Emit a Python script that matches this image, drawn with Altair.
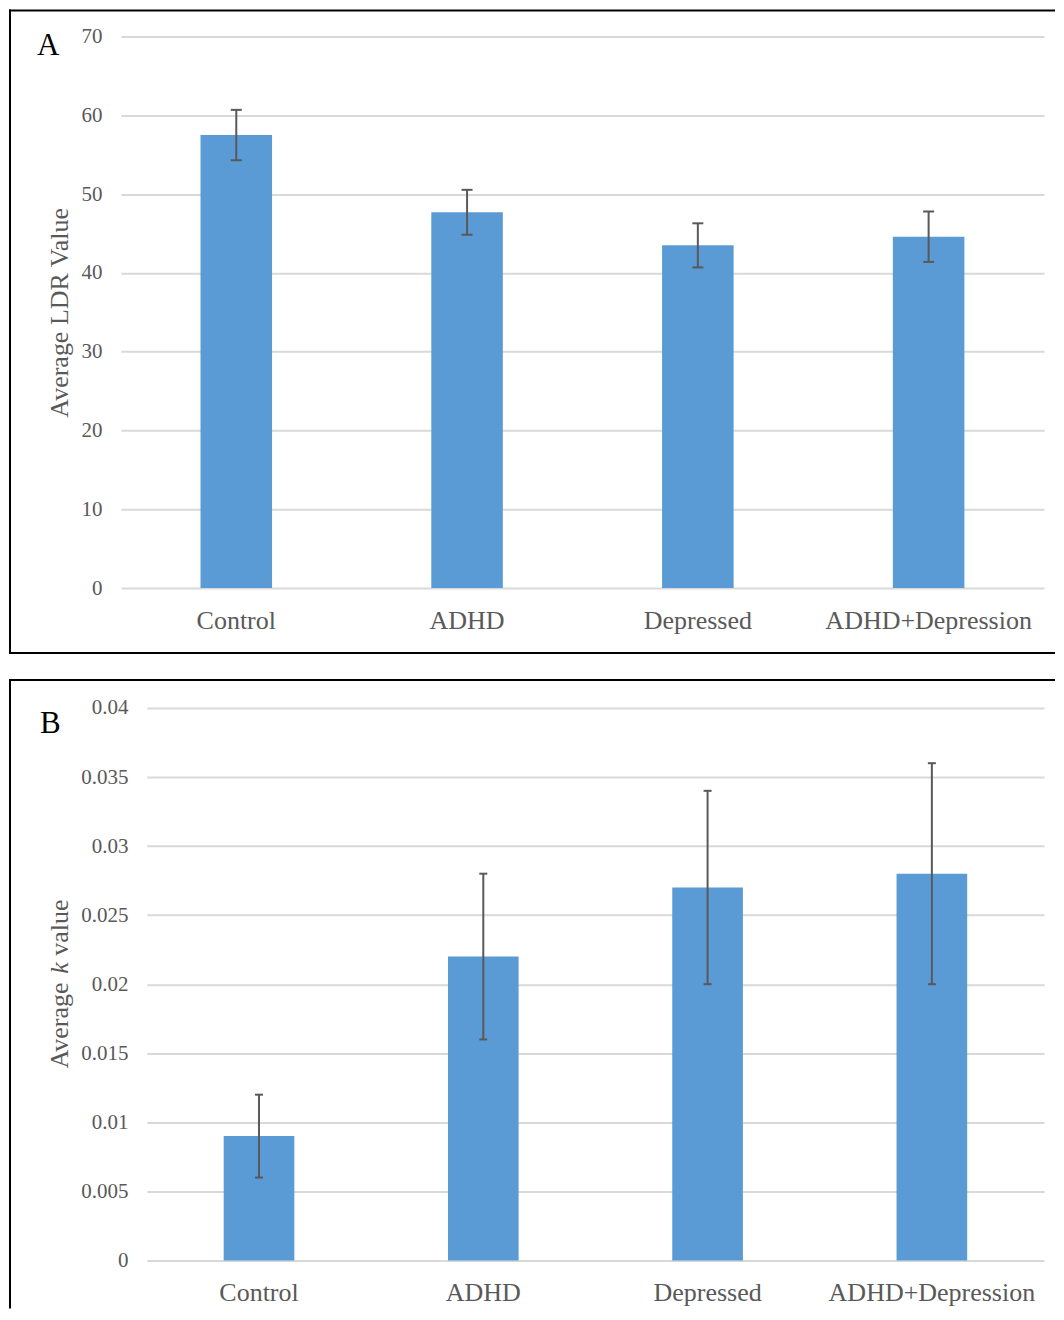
import altair as alt
import pandas as pd

# ---- data ----
categories = ["Control", "ADHD", "Depressed", "ADHD+Depression"]
ldr_means = [57.5, 47.7, 43.5, 44.6]
ldr_errors = [3.2, 2.85, 2.8, 3.2]
ldr_ticks = [0, 10, 20, 30, 40, 50, 60, 70]
k_means = [0.009, 0.022, 0.027, 0.028]
k_errors = [0.003, 0.006, 0.007, 0.008]
k_ticks = [0, 0.005, 0.01, 0.015, 0.02, 0.025, 0.03, 0.035, 0.04]

BAR = "#5B9BD5"
GRAY = "#595959"
GRID = "#D9D9D9"
FONT = "Liberation Serif"

W = 924  # common view width of both panels

one = pd.DataFrame({"d": [0]})


def make_df(means, errs):
    return pd.DataFrame({
        "group": categories,
        "mean": means,
        "lo": [m - e for m, e in zip(means, errs)],
        "hi": [m + e for m, e in zip(means, errs)],
    })


def panel(df, ticks, domain, h, inset, pad_inner, cap, title, letter, letter_xy,
          left_x, right_x, top_y, bottom_y, draw_bottom):
    xs = alt.Scale(paddingInner=pad_inner, paddingOuter=pad_inner / 2, range=[inset, W])
    xa = alt.Axis(labelFontSize=26, labelColor=GRAY, labelPadding=19, labelAngle=0,
                  ticks=False, domain=False, grid=False, labelLimit=400,
                  labelFont=FONT)
    ys = alt.Scale(domain=domain, nice=False, zero=True)
    ya_kw = dict(values=ticks, format="~r", grid=True, gridColor=GRID, gridWidth=2,
                 ticks=False, domain=False, labelFontSize=21, labelColor=GRAY,
                 labelPadding=19, labelFont=FONT, offset=-inset)
    if title:
        ya = alt.Axis(title=title, titleFontSize=26, titleColor=GRAY,
                      titleFontWeight="normal", titlePadding=8, titleFont=FONT, **ya_kw)
    else:
        ya = alt.Axis(title=None, **ya_kw)

    X = alt.X("group:N", sort=categories, scale=xs, axis=xa, title=None)

    base = alt.Chart(df)
    bars = base.mark_bar(color=BAR).encode(
        x=X, y=alt.Y("mean:Q", scale=ys, axis=ya))
    err = base.mark_rule(color=GRAY, strokeWidth=2).encode(
        x=X, y=alt.Y("lo:Q", scale=ys, axis=ya), y2="hi:Q")
    cap_lo = base.mark_tick(color=GRAY, size=cap, thickness=2, opacity=1).encode(
        x=X, y=alt.Y("lo:Q", scale=ys, axis=ya))
    cap_hi = base.mark_tick(color=GRAY, size=cap, thickness=2, opacity=1).encode(
        x=X, y=alt.Y("hi:Q", scale=ys, axis=ya))

    lab = alt.Chart(one).mark_text(text=letter, font=FONT, fontSize=31, color="black",
                                   align="left", baseline="alphabetic").encode(
        x=alt.value(letter_xy[0]), y=alt.value(letter_xy[1]))

    bstyle = dict(color="black", strokeWidth=2, strokeCap="square")
    left = alt.Chart(one).mark_rule(**bstyle).encode(
        x=alt.value(left_x), y=alt.value(top_y), y2=alt.value(bottom_y))
    top = alt.Chart(one).mark_rule(**bstyle).encode(
        x=alt.value(left_x), x2=alt.value(right_x), y=alt.value(top_y))
    layers = [bars, err, cap_lo, cap_hi, lab, left, top]
    if draw_bottom:
        bottom = alt.Chart(one).mark_rule(**bstyle).encode(
            x=alt.value(left_x), x2=alt.value(right_x), y=alt.value(bottom_y))
        layers.append(bottom)
    return alt.layer(*layers).properties(width=W, height=h)


chart_a = panel(make_df(ldr_means, ldr_errors), ldr_ticks, [0, 70], 552, 0, 0.69, 11,
                "Average LDR Value", "A", (-84, 18),
                -111, 934, -26, 617, True)

chart_b_core = panel(make_df(k_means, k_errors), k_ticks, [0, 0.04], 553, 26, 0.685, 8,
                     None, "B", (-81, 25),
                     -111, 934, -28, 600, False)

# y-axis title of panel B with italic k
tstyle = dict(font=FONT, fontSize=26, color=GRAY, angle=270, align="left",
              baseline="alphabetic")
t1 = alt.Chart(one).mark_text(text="Average", **tstyle).encode(
    x=alt.value(-53), y=alt.value(361))
t2 = alt.Chart(one).mark_text(text="k", fontStyle="italic", **tstyle).encode(
    x=alt.value(-53), y=alt.value(266))
t3 = alt.Chart(one).mark_text(text="value", **tstyle).encode(
    x=alt.value(-53), y=alt.value(248))

chart_b = alt.layer(chart_b_core, t1, t2, t3)

chart = alt.vconcat(chart_a, chart_b, spacing=23).properties(
    padding=0).configure(font=FONT).configure_view(strokeWidth=0, stroke="transparent")

chart.save("out.html", embed_options={"renderer": "svg", "actions": False})
